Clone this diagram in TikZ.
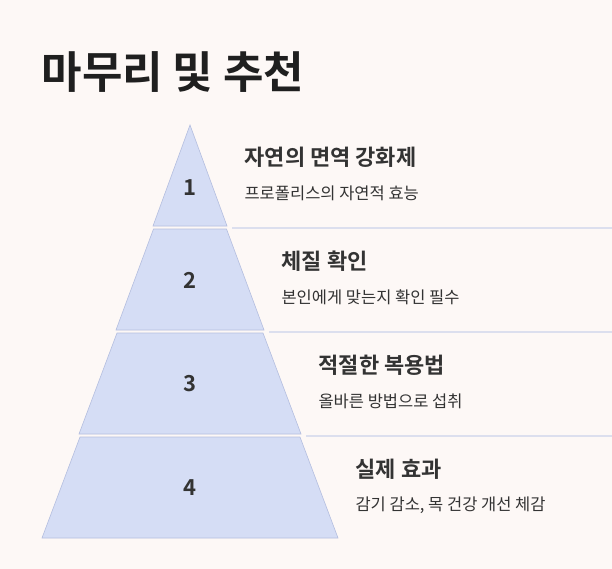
\documentclass[tikz,border=0pt]{standalone}
\usepackage{fontspec}
\setmainfont{Noto Sans CJK KR}
\newfontfamily\kb{Noto Sans CJK KR Bold}
\definecolor{bg}{HTML}{FDF8F6}
\definecolor{tierfill}{HTML}{D5DDF5}
\definecolor{tierline}{HTML}{B4BEDF}
\definecolor{sep}{HTML}{DCDFEE}
\definecolor{txt}{HTML}{333333}
\tikzset{x=1pt,y=-1pt,
 tier/.style={fill=tierfill,draw=tierline,line width=0.6pt},
 num/.style={font=\kb\fontsize{22}{24}\selectfont,text=txt},
 head/.style={anchor=west,font=\kb\fontsize{22}{24}\selectfont,text=txt},
 desc/.style={anchor=west,font=\fontsize{16.5}{18}\selectfont,text=txt},
 sepl/.style={draw=sep,line width=1.2pt}}
\begin{document}
\begin{tikzpicture}
\fill[bg] (0,0) rectangle (612,569);
\useasboundingbox (0,0) rectangle (612,569);
\node[anchor=west,font=\kb\fontsize{44}{48}\selectfont,text=black!88] (title) at (38,72) {마무리 및 추천};
\draw[tier] (190,125) -- (227,226) -- (153,226) -- cycle;
\draw[tier] (153.5,229) -- (226.5,229) -- (264,330) -- (116,330) -- cycle;
\draw[tier] (117,333) -- (263,333) -- (301,434) -- (79,434) -- cycle;
\draw[tier] (80,437) -- (300,437) -- (338,538) -- (42,538) -- cycle;
\node[num] (n1) at (190,188) {1};
\node[num] (n2) at (190,280) {2};
\node[num] (n3) at (190,384) {3};
\node[num] (n4) at (190,488) {4};
\coordinate (s1a) at (232,228); \coordinate (s1b) at (612,228);
\coordinate (s2a) at (269,332); \coordinate (s2b) at (612,332);
\coordinate (s3a) at (306,436); \coordinate (s3b) at (612,436);
\draw[sepl] (s1a) -- (s1b);
\draw[sepl] (s2a) -- (s2b);
\draw[sepl] (s3a) -- (s3b);
\node[head] (h1) at (241,157) {자연의 면역 강화제};
\node[desc] (d1) at (241,193) {프로폴리스의 자연적 효능};
\node[head] (h2) at (278,261) {체질 확인};
\node[desc] (d2) at (278,297) {본인에게 맞는지 확인 필수};
\node[head] (h3) at (315,365) {적절한 복용법};
\node[desc] (d3) at (315,401) {올바른 방법으로 섭취};
\node[head] (h4) at (352,469) {실제 효과};
\node[desc] (d4) at (352,505) {감기 감소, 목 건강 개선 체감};
\end{tikzpicture}
\end{document}
